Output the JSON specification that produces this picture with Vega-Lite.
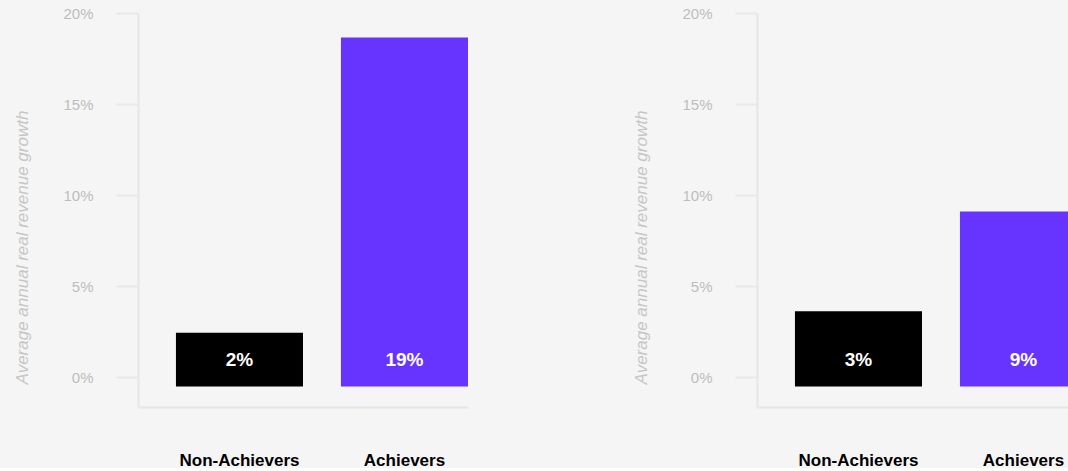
{
  "$schema": "https://vega.github.io/schema/vega-lite/v6.json",
  "background": "#f5f5f5",
  "padding": {"left": 12, "top": 6, "right": -19, "bottom": 0},
  "data": {"values": [
    {"panel": "A", "group": "Non-Achievers", "value": 2.45, "label": "2%"},
    {"panel": "A", "group": "Achievers", "value": 18.66, "label": "19%"},
    {"panel": "B", "group": "Non-Achievers", "value": 3.62, "label": "3%"},
    {"panel": "B", "group": "Achievers", "value": 9.1, "label": "9%"}
  ]},
  "facet": {"column": {"field": "panel", "type": "nominal", "header": {"labels": false, "title": null}}},
  "spacing": 289,
  "bounds": "flush",
  "resolve": {"axis": {"x": "independent", "y": "independent"}},
  "spec": {
    "width": 330,
    "height": 394,
    "layer": [
      {
        "mark": {"type": "bar"},
        "encoding": {
          "x": {
            "field": "group", "type": "nominal",
            "sort": ["Non-Achievers", "Achievers"],
            "scale": {"paddingInner": 0.23, "paddingOuter": 0.115, "align": 1},
            "axis": {
              "title": null, "labelAngle": 0, "ticks": false, "tickSize": 0,
              "labelFont": "Liberation Sans", "labelFontSize": 17, "labelFontWeight": "bold",
              "labelColor": "#000000", "labelPadding": 45,
              "domainColor": "#e6e6e6", "domainWidth": 2
            }
          },
          "y": {
            "field": "value", "type": "quantitative",
            "scale": {"domain": [-1.63, 20], "nice": false, "zero": false},
            "axis": {
              "values": [0, 5, 10, 15, 20],
              "labelExpr": "datum.value + '%'",
              "grid": false,
              "tickSize": 22, "tickWidth": 2, "tickColor": "#e8e8e8",
              "domainColor": "#e6e6e6", "domainWidth": 2,
              "labelPadding": 23, "labelFont": "Liberation Sans", "labelFontSize": 15,
              "labelColor": "#bdbdbd",
              "title": "Average annual real revenue growth",
              "titleFont": "Liberation Sans", "titleFontSize": 17, "titleFontStyle": "italic",
              "titleFontWeight": "normal", "titleColor": "#c6c6c6",
              "titleAngle": -90, "titleAlign": "center", "titleBaseline": "middle",
              "titleX": -116, "titleY": 234
            }
          },
          "y2": {"datum": -0.5},
          "color": {
            "field": "group", "type": "nominal",
            "scale": {"domain": ["Non-Achievers", "Achievers"], "range": ["#000000", "#6734ff"]},
            "legend": null
          }
        }
      },
      {
        "mark": {"type": "text", "font": "Liberation Sans", "fontSize": 19, "fontWeight": "bold",
                 "color": "#ffffff", "align": "center", "baseline": "middle", "yOffset": -17},
        "encoding": {
          "x": {"field": "group", "type": "nominal", "sort": ["Non-Achievers", "Achievers"]},
          "y": {"datum": 0, "type": "quantitative"},
          "text": {"field": "label"}
        }
      }
    ]
  },
  "config": {"view": {"stroke": null}}
}
